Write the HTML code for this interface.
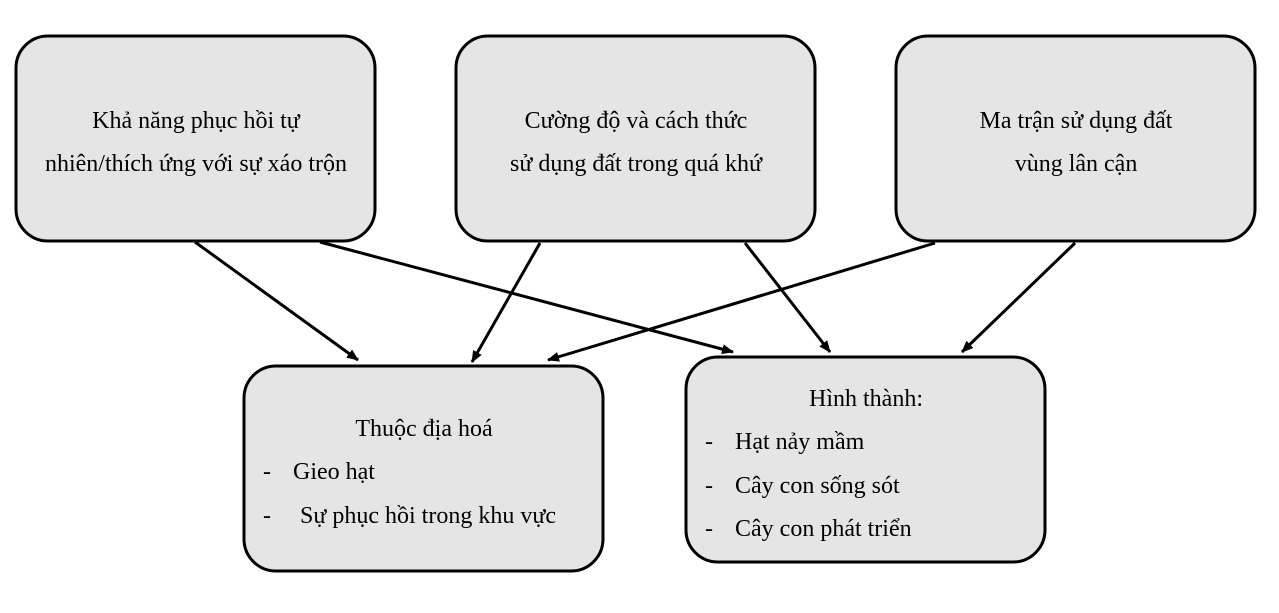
<!DOCTYPE html>
<html><head><meta charset="utf-8"><style>
html,body{margin:0;padding:0;background:#fff;}
svg{display:block}
text{font-family:"Liberation Serif",serif;font-size:24px;fill:#000;}
</style></head><body>
<svg width="1279" height="613" viewBox="0 0 1279 613" xmlns="http://www.w3.org/2000/svg">
<defs><marker id="a" markerWidth="12" markerHeight="10" refX="11" refY="5" orient="auto" markerUnits="userSpaceOnUse"><path d="M0,0 L12,5 L0,10 z" fill="#000"/></marker></defs>
<g fill="#e6e5e6" stroke="#000" stroke-width="3">
<rect x="16" y="36" width="359" height="205" rx="32"/>
<rect x="456" y="36" width="359" height="205" rx="32"/>
<rect x="896" y="36" width="359" height="205" rx="32"/>
<rect x="244" y="366" width="359" height="205" rx="32"/>
<rect x="686" y="357" width="359" height="205" rx="32"/>
</g>
<g stroke="#000" stroke-width="3" marker-end="url(#a)">
<line x1="195" y1="242" x2="358" y2="360"/>
<line x1="320" y1="242" x2="733" y2="352"/>
<line x1="540" y1="243" x2="472" y2="362"/>
<line x1="745" y1="243" x2="830" y2="352"/>
<line x1="935" y1="243" x2="548" y2="360"/>
<line x1="1075" y1="243" x2="962" y2="352"/>
</g>
<g text-anchor="middle">
<text x="196" y="128">Khả năng phục hồi tự</text>
<text x="196" y="171">nhiên/thích ứng với sự xáo trộn</text>
<text x="636" y="128">Cường độ và cách thức</text>
<text x="636" y="171">sử dụng đất trong quá khứ</text>
<text x="1076" y="128">Ma trận sử dụng đất</text>
<text x="1076" y="171">vùng lân cận</text>
<text x="424" y="436">Thuộc địa hoá</text>
<text x="866" y="406">Hình thành:</text>
</g>
<text x="263" y="479">-</text><text x="293" y="479">Gieo hạt</text>
<text x="263" y="523">-</text><text x="300" y="523">Sự phục hồi trong khu vực</text>
<text x="705" y="449">-</text><text x="735" y="449">Hạt nảy mầm</text>
<text x="705" y="493">-</text><text x="735" y="493">Cây con sống sót</text>
<text x="705" y="536">-</text><text x="735" y="536">Cây con phát triển</text>
</svg>
</body></html>
